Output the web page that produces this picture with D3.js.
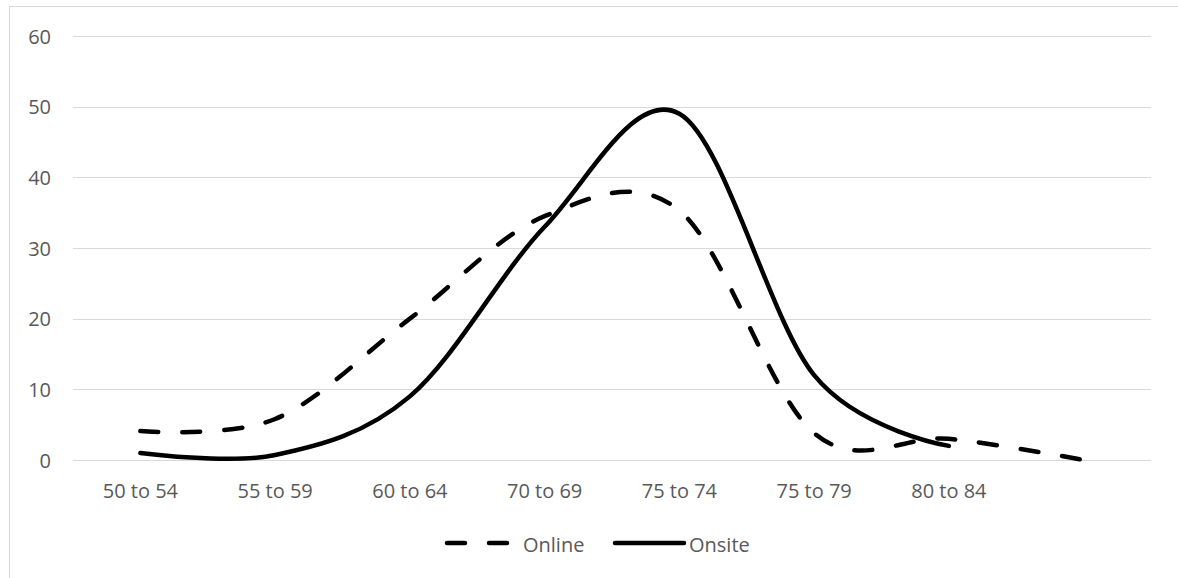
<!DOCTYPE html>
<html><head><meta charset="utf-8">
<script src="https://cdn.jsdelivr.net/npm/d3@7"></script>
<style>body{margin:0;background:#fff}svg{display:block}text{font-family:"Open Sans",sans-serif;fill:#595959}</style>
</head><body><svg id="c" width="1178" height="578"></svg>
<script>
const categories = ["50 to 54","55 to 59","60 to 64","70 to 69","75 to 74","75 to 79","80 to 84",""];
const onlineValues = [4.1, 5.8, 20, 34.5, 35.3, 3.8, 3, 0];
const onsiteValues = [1, 0.7, 9, 33, 49, 12, 2];
const yTicks = [0,10,20,30,40,50,60];

const svg = d3.select("#c");
svg.append("rect").attr("x",9.5).attr("y",6.5).attr("width",1300).attr("height",700)
  .attr("fill","none").attr("stroke","#d9d9d9").attr("stroke-width",1);

const x = d3.scaleBand().domain(categories.map((c,i)=>i)).range([73,1151]);
const y = d3.scaleLinear().domain([0,60]).range([460,36]);

svg.append("g").selectAll("line").data(yTicks).join("line")
  .attr("x1",73).attr("x2",1151).attr("y1",d=>Math.round(y(d))+0.5).attr("y2",d=>Math.round(y(d))+0.5)
  .attr("stroke","#d9d9d9").attr("stroke-width",1);

const yAxis = d3.axisLeft(y).tickValues(yTicks).tickSize(0).tickPadding(0);
const ya = svg.append("g").attr("transform","translate(51,0)").call(yAxis);
ya.select(".domain").remove();
ya.selectAll("text").style("font-size","20px").style("font-family","'Open Sans',sans-serif").style("fill","#595959").attr("dy","0.36em");

const xAxis = d3.axisBottom(x).tickFormat(i=>categories[i]).tickSize(0).tickPadding(0);
const xa = svg.append("g").attr("transform","translate(0,491)").call(xAxis);
xa.select(".domain").remove();
xa.selectAll("text").style("font-size","20px").style("font-family","'Open Sans',sans-serif").style("fill","#595959").attr("dy","0.36em");

const line = d3.line().x((d,i)=>x(i)+x.bandwidth()/2).y(d=>y(d)).curve(d3.curveCardinal.tension(0));

svg.append("path").datum(onlineValues).attr("d",line).attr("fill","none").attr("stroke","#000")
  .attr("stroke-width",4.5).attr("stroke-dasharray","18,24").attr("stroke-linecap","round");
svg.append("path").datum(onsiteValues).attr("d",line).attr("fill","none").attr("stroke","#000")
  .attr("stroke-width",4.5).attr("stroke-linecap","round");

const lg = svg.append("g");
lg.append("line").attr("x1",447).attr("x2",510).attr("y1",543).attr("y2",543).attr("stroke","#000")
  .attr("stroke-width",4.5).attr("stroke-dasharray","18,24").attr("stroke-linecap","round");
lg.append("text").attr("x",523).attr("y",545).attr("dy","0.36em").style("font-size","20px").text("Online");
lg.append("line").attr("x1",615).attr("x2",684).attr("y1",543).attr("y2",543).attr("stroke","#000")
  .attr("stroke-width",4.5).attr("stroke-linecap","round");
lg.append("text").attr("x",689).attr("y",545).attr("dy","0.36em").style("font-size","20px").text("Onsite");
</script></body></html>
